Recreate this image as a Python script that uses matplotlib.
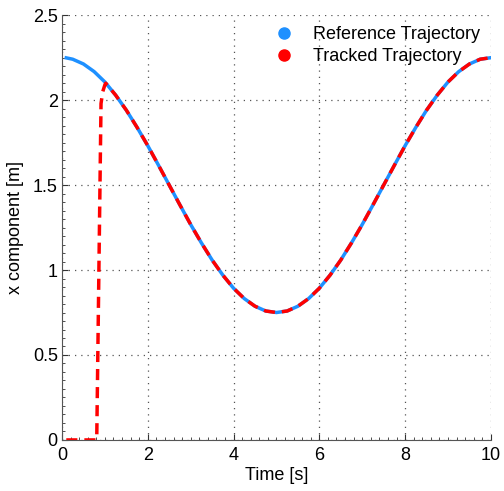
import matplotlib
matplotlib.use("Agg")
import matplotlib.pyplot as plt
from matplotlib.ticker import MultipleLocator
from matplotlib.lines import Line2D

plt.rcParams['font.family'] = ['Liberation Sans', 'DejaVu Sans']

# reference trajectory
ref_t = [0.1, 0.25, 0.5, 0.75, 1.0, 1.25, 1.5, 1.75, 2.0, 2.25, 2.5, 2.75, 3.0, 3.25, 3.5, 3.75,
         4.0, 4.25, 4.5, 4.75, 5.0, 5.25, 5.5, 5.75, 6.0, 6.25, 6.5, 6.75, 7.0, 7.25, 7.5, 7.75,
         8.0, 8.25, 8.5, 8.75, 9.0, 9.25, 9.5, 9.75, 10.0]
ref_x = [2.249, 2.241, 2.213, 2.168, 2.107, 2.030, 1.941, 1.840, 1.732, 1.617, 1.500, 1.383, 1.268,
         1.160, 1.059, 0.970, 0.893, 0.832, 0.787, 0.759, 0.750, 0.759, 0.787, 0.832, 0.893, 0.970,
         1.059, 1.160, 1.268, 1.383, 1.500, 1.617, 1.732, 1.840, 1.941, 2.030, 2.107, 2.168, 2.213,
         2.241, 2.250]

# tracked trajectory: zero until ~0.8 s, then jumps onto the reference
trk_t = [0.1, 0.8, 0.81, 0.91, 0.95, 1.0, 1.02] + ref_t[5:]
trk_x = [0.0, 0.0, 0.0, 1.98, 2.05, 2.09, 2.10] + ref_x[5:]

blue = '#1e90ff'
red = '#ff0000'

fig = plt.figure(figsize=(5.04, 4.91), dpi=100)
ax = fig.add_axes([0.123, 0.104, 0.851, 0.865])

ax.plot(ref_t, ref_x, color=blue, lw=2.5)
ax.plot(trk_t, trk_x, color=red, lw=2.5, dashes=(3.2, 2.0))

ax.set_xlim(0, 10)
ax.set_ylim(0, 2.5)
ax.xaxis.set_major_locator(MultipleLocator(2))
ax.xaxis.set_minor_locator(MultipleLocator(0.2))
ax.yaxis.set_major_locator(MultipleLocator(0.5))
ax.yaxis.set_minor_locator(MultipleLocator(0.05))
ax.tick_params(which='both', direction='in', labelsize=13, colors='#333333', labelcolor='black')
ax.tick_params(which='major', length=4, pad=3)
ax.tick_params(axis='x', which='major', pad=5)
ax.tick_params(which='minor', length=2)
ax.yaxis.set_major_formatter(matplotlib.ticker.FuncFormatter(lambda v, p: ('%g' % v)))
for s in ['top', 'right']:
    ax.spines[s].set_visible(False)
for s in ['left', 'bottom']:
    ax.spines[s].set_color('#555555')
ax.grid(True, which='major', color='#555555', linestyle=(0, (1, 4)), lw=0.9)

ax.set_xlabel('Time [s]', fontsize=13, labelpad=2)
ax.set_ylabel('x component [m]', fontsize=13, labelpad=6)

handles = [Line2D([], [], ls='none', marker='o', ms=8, color=blue),
           Line2D([], [], ls='none', marker='o', ms=8, color=red)]
ax.legend(handles, ['Reference Trajectory', 'Tracked Trajectory'], loc='upper right',
          frameon=False, fontsize=13, handletextpad=0.6, borderaxespad=0.2,
          labelspacing=0.3, bbox_to_anchor=(1.0, 1.0))

fig.savefig('out.png', dpi=100)
